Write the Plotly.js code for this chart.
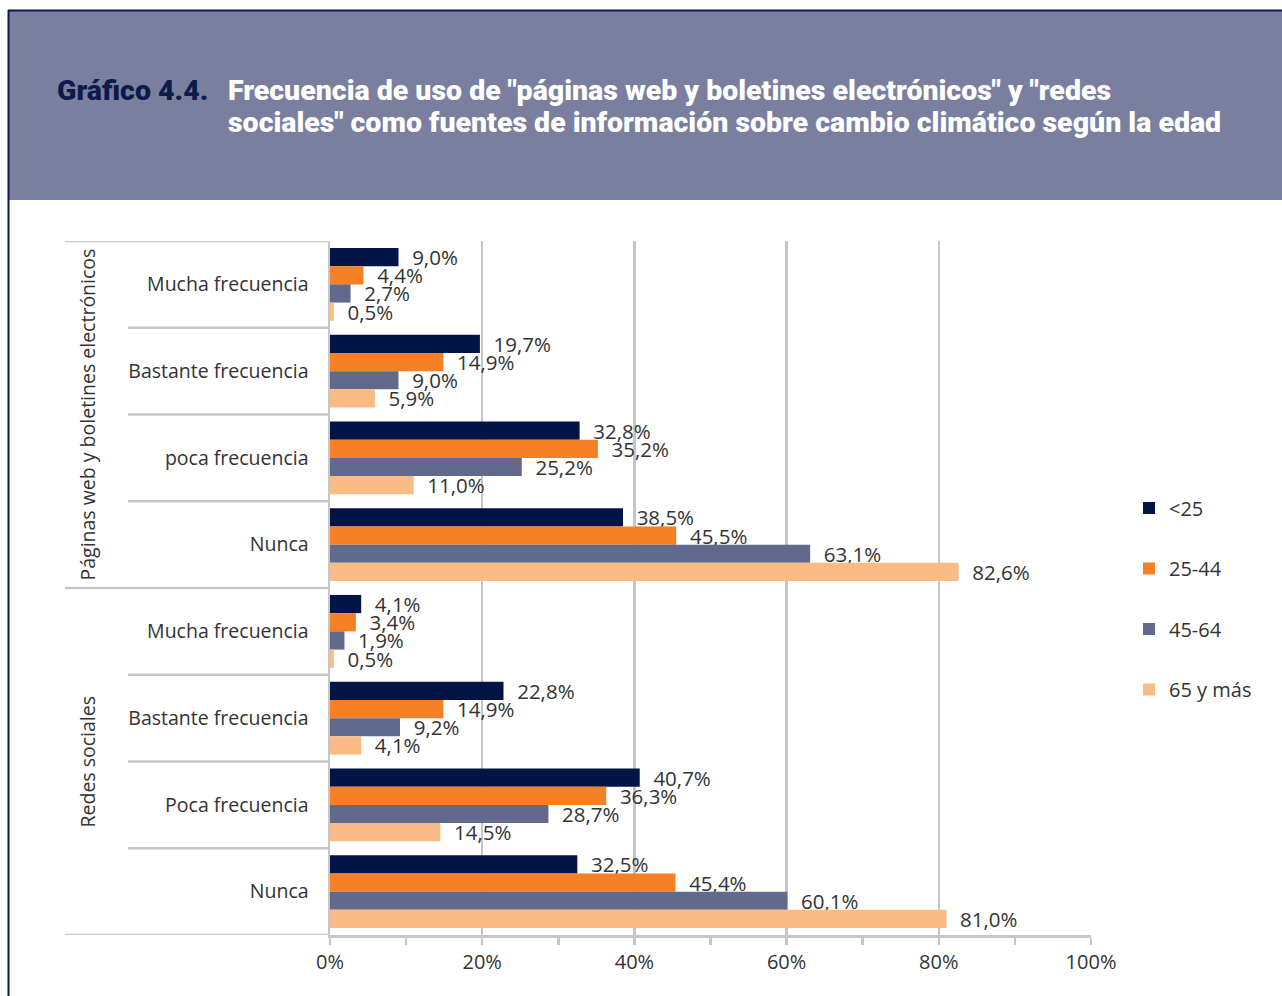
<!DOCTYPE html>
<html>
<head>
<meta charset="utf-8">
<script src="https://cdn.plot.ly/plotly-3.0.1.min.js"></script>
<style>html,body{margin:0;padding:0;background:#fff;}#chart{width:1282px;height:996px;}</style>
</head>
<body>
<div id="chart"></div>
<script>
// ---- Data ----
var groups = ["Páginas web y boletines electrónicos", "Redes sociales"];
var categories = ["Mucha frecuencia", "Bastante frecuencia", "poca frecuencia", "Nunca",
                  "Mucha frecuencia", "Bastante frecuencia", "Poca frecuencia", "Nunca"];
var seriesNames = ["<25", "25-44", "45-64", "65 y más"];
var serieLt25   = [9.0, 19.7, 32.8, 38.5, 4.1, 22.8, 40.7, 32.5];
var serie25_44  = [4.4, 14.9, 35.2, 45.5, 3.4, 14.9, 36.3, 45.4];
var serie45_64  = [2.7, 9.0, 25.2, 63.1, 1.9, 9.2, 28.7, 60.1];
var serie65     = [0.5, 5.9, 11.0, 82.6, 0.5, 4.1, 14.5, 81.0];
var xTickVals = [0, 20, 40, 60, 80, 100];
var xTickText = ["0%", "20%", "40%", "60%", "80%", "100%"];
var titleLabel = "Gráfico 4.4.";
var titleLines = ["Frecuencia de uso de \"páginas web y boletines electrónicos\" y \"redes",
                  "sociales\" como fuentes de información sobre cambio climático según la edad"];

// ---- Styling ----
var colors = ["#021446", "#f58025", "#616a8c", "#fbbb85"];
var gridCol = "#c6c6ca";
var textCol = "#333333";
var bodyFont = "Open Sans, Noto Sans, sans-serif";
var titleFont = "Roboto, sans-serif";

// pixel helpers for paper coordinates (plot area: x 330..1091, y 241..935)
var L = 330, R = 1091, T = 241, B = 935;
function px(x) { return (x - L) / (R - L); }
function py(y) { return (B - y) / (B - T); }

var allSeries = [serieLt25, serie25_44, serie45_64, serie65];
var yIdx = categories.map(function (c, i) { return i; });

function fmt(v) { return "\u00a0\u00a0" + v.toFixed(1).replace(".", ",") + "%"; }

var traces = allSeries.map(function (s, k) {
  return {
    type: "bar",
    orientation: "h",
    name: seriesNames[k],
    legendgroup: "g" + k,
    x: s,
    y: yIdx,
    marker: { color: colors[k] },
    text: s.map(fmt),
    textposition: "outside",
    constraintext: "none",
    cliponaxis: false,
    textfont: { family: bodyFont, size: 20.5, color: textCol },
    hoverinfo: "skip"
  };
});

var shapes = [];
// header band
shapes.push({ type: "rect", xref: "paper", yref: "paper", x0: px(9), x1: px(1290), y0: py(200), y1: py(11),
  fillcolor: "#7a7fa0", line: { width: 0 }, layer: "below" });
// border lines
shapes.push({ type: "line", xref: "paper", yref: "paper", x0: px(8), x1: px(1290), y0: py(10.5), y1: py(10.5),
  line: { color: "#0d1b4b", width: 2 } });
shapes.push({ type: "line", xref: "paper", yref: "paper", x0: px(8.5), x1: px(8.5), y0: py(10), y1: py(1000),
  line: { color: "#0d1b4b", width: 2 } });
// category dividers
for (var i = 0; i < categories.length - 1; i++) {
  var outer = ((i + 1) % 4 === 0);
  shapes.push({ type: "line", xref: "paper", yref: "y", x0: outer ? px(65) : px(128), x1: 0,
    y0: i + 0.5, y1: i + 0.5, line: { color: gridCol, width: 2.5 } });
}
// top and bottom outer dividers
shapes.push({ type: "line", xref: "paper", yref: "y", x0: px(65), x1: 0, y0: -0.5, y1: -0.5,
  line: { color: gridCol, width: 2.5 } });
shapes.push({ type: "line", xref: "paper", yref: "y", x0: px(65), x1: 0, y0: categories.length - 0.5, y1: categories.length - 0.5,
  line: { color: gridCol, width: 2.5 } });

var annotations = [];
annotations.push({ xref: "paper", yref: "paper", x: px(55), y: py(90), xanchor: "left", yanchor: "middle",
  text: titleLabel, showarrow: false, font: { family: titleFont, size: 28.5, weight: 900, color: "#0d1b4b" } });
titleLines.forEach(function (t, li) {
  annotations.push({ xref: "paper", yref: "paper", x: px(226), y: py(90 + li * 33), xanchor: "left", yanchor: "middle",
    text: t, showarrow: false, font: { family: titleFont, size: 28.5, weight: 900, color: "#ffffff" } });
});
groups.forEach(function (g, gi) {
  annotations.push({ xref: "paper", yref: "y", x: px(87), y: gi * 4 + 1.5, xanchor: "center", yanchor: "middle",
    text: g, textangle: -90, showarrow: false, font: { family: bodyFont, size: 19.5, color: textCol } });
});

var layout = {
  width: 1282, height: 996,
  margin: { l: L, r: 1282 - R, t: T, b: 996 - B, pad: 0 },
  paper_bgcolor: "#ffffff", plot_bgcolor: "#ffffff",
  barmode: "group", bargap: 0.16, bargroupgap: 0,
  showlegend: true,
  legend: { x: px(1129), y: py(599), xanchor: "left", yanchor: "middle", traceorder: "grouped",
    tracegroupgap: 31.5, font: { family: bodyFont, size: 20, color: textCol }, bgcolor: "rgba(0,0,0,0)" },
  xaxis: {
    range: [0, 100], tickmode: "array", tickvals: xTickVals, ticktext: xTickText,
    showgrid: true, gridcolor: gridCol, gridwidth: 2.5,
    showline: true, linecolor: gridCol, linewidth: 2.5,
    ticks: "outside", ticklen: 7, tickwidth: 2.5, tickcolor: gridCol,
    minor: { dtick: 10, tick0: 0, ticks: "outside", ticklen: 7, tickwidth: 2.5, tickcolor: gridCol, showgrid: false },
    zeroline: false, ticklabelstandoff: 0,
    tickfont: { family: bodyFont, size: 20, color: textCol }, fixedrange: true
  },
  yaxis: {
    range: [categories.length - 0.5, -0.5],
    tickvals: yIdx, ticktext: categories,
    showgrid: false, zeroline: false,
    showline: true, linecolor: gridCol, linewidth: 2.5,
    ticks: "", ticklabelstandoff: 15,
    tickfont: { family: bodyFont, size: 19.5, color: textCol }, fixedrange: true
  },
  shapes: shapes,
  annotations: annotations
};

Plotly.newPlot("chart", traces, layout, { displayModeBar: false, staticPlot: true });
</script>
</body>
</html>
